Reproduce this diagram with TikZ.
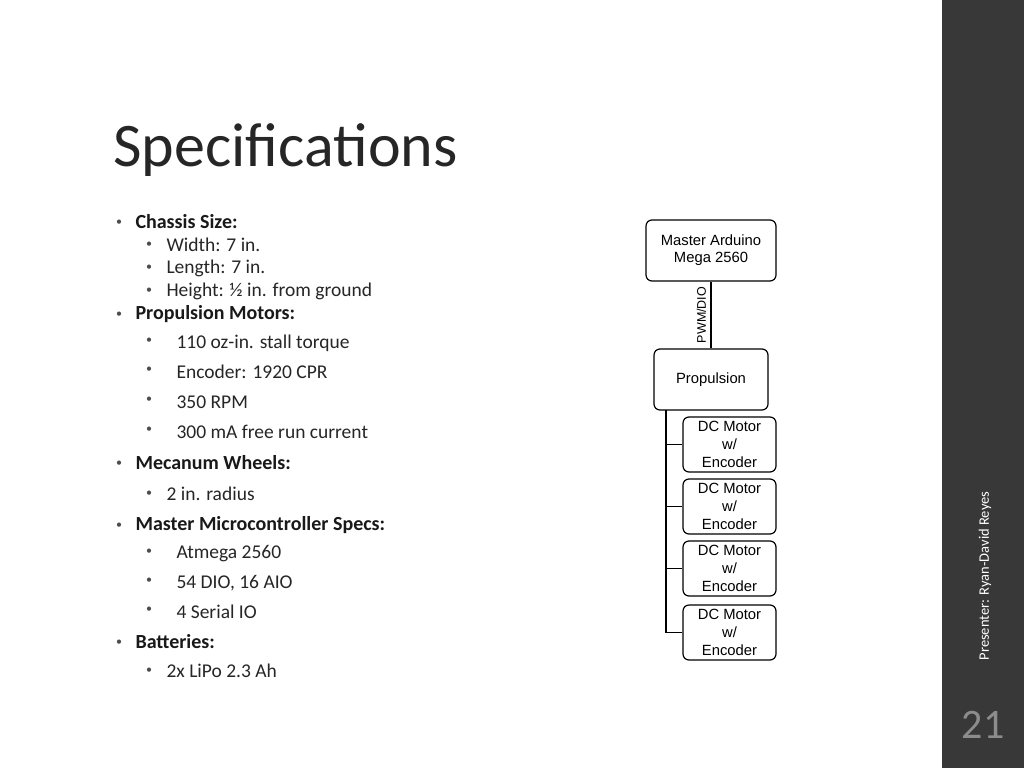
\documentclass[tikz,border=0pt]{standalone}
\usepackage{fontspec}
\setmainfont{Carlito}
\newfontfamily\arialf{Liberation Sans}
\begin{document}
\begin{tikzpicture}[x=1pt,y=-1pt,
 box/.style={draw=black,line width=1.2pt,rounded corners=6pt,align=center,font=\arialf\fontsize{14.8}{17}\selectfont,inner sep=0pt},
 l1/.style={anchor=west,font=\fontsize{20}{22}\selectfont\bfseries,text=black!90},
 l2/.style={anchor=west,font=\fontsize{19.5}{22}\selectfont,text=black!85},
 bul/.style={anchor=center,font=\fontsize{12}{12}\selectfont,text=black!70}]
\useasboundingbox (0,0) rectangle (1024,768);
\fill[white] (0,0) rectangle (942,768);
\fill[black!78] (942,0) rectangle (1024,768);
\node[anchor=west,font=\fontsize{62}{66}\selectfont,text=black!85] (title) at (110,150) {Specifications};
% list
\foreach \y/\t in {222/Chassis Size:,314/Propulsion Motors:,463/Mecanum Wheels:,525/Master Microcontroller Specs:,642/Batteries:}{
 \node[bul] at (119,\y+1) {•}; \node[l1] at (132,\y) {\t};}
\foreach \y/\t in {245/Width: 7 in.,268/Length: 7 in.,291/Height: ½ in. from ground,494/2 in. radius,671/2x LiPo 2.3 Ah}{
 \node[bul] at (149,\y) {•}; \node[l2] at (163,\y) {\t};}
\foreach \y/\t in {343/110 oz-in. stall torque,372/Encoder: 1920 CPR,402/350 RPM,432/300 mA free run current,554/Atmega 2560,583/{54 DIO, 16 AIO},612/4 Serial IO}{
 \node[bul] at (149,\y-2) {•}; \node[l2] at (173,\y) {\t};}
% diagram
\node[box,minimum width=130pt,minimum height=61pt] (m) at (711,250.5) {Master Arduino\\Mega 2560};
\node[box,minimum width=114pt,minimum height=61pt] (p) at (711,379.5) {Propulsion};
\foreach \i/\y in {1/444.5,2/506.5,3/568.5,4/632.5}{
 \node[box,minimum width=93pt,minimum height=55pt,font=\arialf\fontsize{14.8}{18}\selectfont] (d\i) at (729.5,\y) {DC Motor\\w/\\Encoder};}
\draw[line width=1.2pt] (m) -- node[left=1pt,rotate=90,anchor=south,font=\arialf\fontsize{12.5}{13}\selectfont] {PWM/DIO} (p);
\coordinate (t) at (666,410);
\coordinate (b) at (666,633);
\draw[line width=1.2pt] (t) -- (b);
\foreach \i in {1,...,4}{\draw[line width=1.2pt] (d\i.west) -- (d\i.west -| t);}
% sidebar
\node[rotate=90,font=\fontsize{14.5}{15}\selectfont,text=white] (pr) at (985,576) {Presenter: Ryan-David Reyes};
\node[font=\fontsize{42}{44}\selectfont,text=black!45] (n) at (983,725) {21};
\end{tikzpicture}
\end{document}
